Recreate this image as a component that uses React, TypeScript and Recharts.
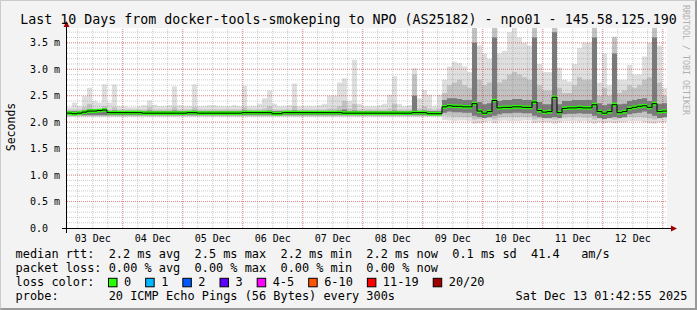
import React from 'react';
import { ComposedChart, Area, Line, XAxis, YAxis, ReferenceLine, CartesianGrid } from 'recharts';

const FONT = '"DejaVu Sans Mono", monospace';
const Y_MAX = 3.78;
const BIN_HOURS = 2;
const START_HOUR = 1.715; // first sample at 01:42:55
const CHAR = 7.17; // legend char advance

const dayLabels = ['03 Dec', '04 Dec', '05 Dec', '06 Dec', '07 Dec', '08 Dec', '09 Dec', '10 Dec', '11 Dec', '12 Dec'];
const yTicks = [0, 0.5, 1, 1.5, 2, 2.5, 3, 3.5];

// values in ms, one per 2 hour bin
const median = [
  2.17, 2.16, 2.17, 2.19, 2.21, 2.21, 2.22, 2.23, 2.18, 2.18, 2.18, 2.18, 2.18, 2.18, 2.18,
  2.17, 2.17, 2.17, 2.17, 2.17, 2.17, 2.17, 2.17, 2.17, 2.18, 2.18, 2.17, 2.17, 2.17, 2.17,
  2.17, 2.17, 2.17, 2.17, 2.17, 2.18, 2.18, 2.18, 2.18, 2.18, 2.18, 2.16, 2.16, 2.18, 2.18,
  2.18, 2.18, 2.18, 2.18, 2.18, 2.18, 2.18, 2.18, 2.18, 2.18, 2.17, 2.17, 2.17, 2.17, 2.17,
  2.17, 2.17, 2.17, 2.17, 2.17, 2.17, 2.17, 2.17, 2.17, 2.18, 2.18, 2.18, 2.16, 2.16, 2.16,
  2.29, 2.31, 2.30, 2.30, 2.29, 2.29, 2.35, 2.21, 2.17, 2.20, 2.41, 2.27, 2.28, 2.28, 2.29,
  2.29, 2.28, 2.28, 2.38, 2.22, 2.19, 2.20, 2.47, 2.18, 2.26, 2.27, 2.27, 2.28, 2.27, 2.27,
  2.33, 2.20, 2.17, 2.20, 2.33, 2.18, 2.20, 2.26, 2.28, 2.30, 2.31, 2.28, 2.35, 2.20, 2.21,
];

const pingMax = [
  2.28, 2.37, 2.30, 2.49, 2.65, 2.40, 2.37, 2.71, 2.37, 2.71, 2.30, 2.30, 2.28, 2.28, 2.30,
  2.32, 2.41, 2.33, 2.30, 2.30, 2.32, 2.68, 2.32, 2.30, 2.30, 2.71, 2.30, 2.30, 2.32, 2.32,
  2.30, 2.30, 2.30, 2.32, 2.30, 2.69, 2.30, 2.30, 2.35, 2.45, 2.60, 2.35, 2.30, 2.30, 2.32,
  2.73, 2.30, 2.30, 2.30, 2.30, 2.32, 2.35, 2.50, 2.50, 2.75, 2.83, 2.40, 3.18, 2.35, 2.30,
  2.30, 2.30, 2.32, 2.35, 2.52, 2.87, 2.35, 2.30, 2.32, 3.02, 2.45, 2.61, 2.52, 2.30, 2.52,
  2.80, 3.05, 3.14, 3.12, 3.05, 2.95, 3.78, 3.45, 3.30, 3.20, 3.78, 3.30, 3.35, 3.70, 3.78,
  3.60, 3.50, 3.45, 3.78, 3.10, 2.95, 2.95, 3.78, 3.03, 2.80, 2.77, 3.10, 3.40, 3.50, 3.50,
  3.78, 2.75, 3.30, 2.70, 3.62, 2.80, 2.80, 3.08, 2.90, 2.90, 3.24, 3.50, 3.78, 3.45, 2.65,
];

const pingMin = [
  2.10, 2.10, 2.10, 2.10, 2.10, 2.10, 2.10, 2.10, 2.10, 2.10, 2.10, 2.10, 2.10, 2.10, 2.10,
  2.10, 2.10, 2.10, 2.10, 2.10, 2.10, 2.10, 2.10, 2.10, 2.10, 2.10, 2.10, 2.10, 2.10, 2.10,
  2.10, 2.10, 2.10, 2.10, 2.10, 2.10, 2.10, 2.10, 2.10, 2.10, 2.10, 2.10, 2.10, 2.10, 2.10,
  2.10, 2.10, 2.10, 2.10, 2.10, 2.10, 2.10, 2.10, 2.10, 2.10, 2.10, 2.10, 2.10, 2.10, 2.10,
  2.10, 2.10, 2.10, 2.10, 2.10, 2.10, 2.10, 2.10, 2.10, 2.10, 2.10, 2.10, 2.10, 2.10, 2.10,
  2.04, 2.03, 2.02, 2.03, 2.03, 2.02, 1.97, 1.98, 2.00, 2.02, 1.98, 2.02, 2.03, 2.02, 2.02,
  2.02, 2.03, 2.03, 1.98, 2.00, 2.00, 2.00, 1.97, 2.00, 2.02, 2.02, 2.02, 2.01, 2.02, 2.00,
  1.97, 2.00, 1.98, 2.00, 1.98, 2.00, 2.00, 2.02, 2.02, 2.02, 2.00, 1.98, 1.97, 2.00, 2.00,
];

const midLow = [
  2.12, 2.12, 2.12, 2.12, 2.12, 2.12, 2.12, 2.12, 2.12, 2.12, 2.12, 2.12, 2.12, 2.12, 2.12,
  2.12, 2.12, 2.12, 2.12, 2.12, 2.12, 2.12, 2.12, 2.12, 2.12, 2.12, 2.12, 2.12, 2.12, 2.12,
  2.12, 2.12, 2.12, 2.12, 2.12, 2.12, 2.12, 2.12, 2.12, 2.12, 2.12, 2.12, 2.12, 2.12, 2.12,
  2.12, 2.12, 2.12, 2.12, 2.12, 2.12, 2.12, 2.12, 2.12, 2.12, 2.12, 2.12, 2.12, 2.12, 2.12,
  2.12, 2.12, 2.12, 2.12, 2.12, 2.12, 2.12, 2.12, 2.12, 2.12, 2.12, 2.12, 2.12, 2.12, 2.12,
  2.12, 2.11, 2.10, 2.10, 2.10, 2.10, 2.05, 2.06, 2.07, 2.08, 2.05, 2.09, 2.10, 2.10, 2.10,
  2.10, 2.10, 2.10, 2.05, 2.07, 2.07, 2.07, 2.05, 2.07, 2.09, 2.10, 2.10, 2.10, 2.09, 2.09,
  2.05, 2.07, 2.06, 2.07, 2.05, 2.07, 2.08, 2.10, 2.10, 2.10, 2.09, 2.07, 2.05, 2.07, 2.08,
];

const midHigh = [
  2.24, 2.24, 2.24, 2.28, 2.35, 2.26, 2.26, 2.30, 2.24, 2.28, 2.24, 2.24, 2.24, 2.24, 2.24,
  2.24, 2.28, 2.24, 2.24, 2.24, 2.24, 2.28, 2.24, 2.24, 2.24, 2.28, 2.24, 2.24, 2.24, 2.24,
  2.24, 2.24, 2.24, 2.24, 2.24, 2.28, 2.24, 2.24, 2.24, 2.26, 2.30, 2.24, 2.24, 2.24, 2.24,
  2.30, 2.24, 2.24, 2.24, 2.24, 2.24, 2.24, 2.26, 2.26, 2.30, 2.40, 2.26, 2.35, 2.24, 2.24,
  2.24, 2.24, 2.24, 2.24, 2.26, 2.35, 2.24, 2.24, 2.24, 2.90, 2.26, 2.30, 2.26, 2.24, 2.26,
  2.55, 2.70, 2.75, 2.80, 2.70, 2.65, 3.78, 2.80, 2.70, 2.75, 3.78, 2.75, 2.80, 2.90, 2.95,
  2.90, 2.85, 2.80, 3.78, 2.70, 2.60, 2.60, 3.78, 2.65, 2.55, 2.55, 2.70, 2.85, 2.80, 2.80,
  3.78, 2.50, 2.65, 2.50, 3.60, 2.55, 2.60, 2.70, 2.65, 2.70, 2.80, 2.85, 3.78, 2.75, 2.50,
];

const coreLow = [
  2.13, 2.13, 2.13, 2.13, 2.13, 2.13, 2.13, 2.13, 2.13, 2.13, 2.13, 2.13, 2.13, 2.13, 2.13,
  2.13, 2.13, 2.13, 2.13, 2.13, 2.13, 2.13, 2.13, 2.13, 2.13, 2.13, 2.13, 2.13, 2.13, 2.13,
  2.13, 2.13, 2.13, 2.13, 2.13, 2.13, 2.13, 2.13, 2.13, 2.13, 2.13, 2.13, 2.13, 2.13, 2.13,
  2.13, 2.13, 2.13, 2.13, 2.13, 2.13, 2.13, 2.13, 2.13, 2.13, 2.13, 2.13, 2.13, 2.13, 2.13,
  2.13, 2.13, 2.13, 2.13, 2.13, 2.13, 2.13, 2.13, 2.13, 2.13, 2.13, 2.13, 2.13, 2.13, 2.13,
  2.18, 2.20, 2.19, 2.19, 2.18, 2.18, 2.12, 2.10, 2.08, 2.10, 2.12, 2.15, 2.17, 2.17, 2.18,
  2.18, 2.17, 2.17, 2.12, 2.10, 2.08, 2.08, 2.10, 2.08, 2.15, 2.16, 2.16, 2.17, 2.16, 2.16,
  2.12, 2.08, 2.06, 2.08, 2.10, 2.08, 2.10, 2.15, 2.17, 2.18, 2.20, 2.16, 2.12, 2.08, 2.10,
];

const coreHigh = [
  2.21, 2.21, 2.21, 2.23, 2.25, 2.25, 2.25, 2.26, 2.21, 2.22, 2.21, 2.21, 2.21, 2.21, 2.21,
  2.21, 2.22, 2.21, 2.21, 2.21, 2.21, 2.22, 2.21, 2.21, 2.21, 2.22, 2.21, 2.21, 2.21, 2.21,
  2.21, 2.21, 2.21, 2.21, 2.21, 2.22, 2.21, 2.21, 2.21, 2.21, 2.22, 2.21, 2.21, 2.21, 2.21,
  2.22, 2.21, 2.21, 2.21, 2.21, 2.21, 2.21, 2.21, 2.21, 2.22, 2.24, 2.21, 2.22, 2.21, 2.21,
  2.21, 2.21, 2.21, 2.21, 2.21, 2.22, 2.21, 2.21, 2.21, 2.50, 2.21, 2.22, 2.21, 2.21, 2.21,
  2.42, 2.45, 2.45, 2.44, 2.42, 2.42, 3.50, 2.38, 2.34, 2.36, 3.60, 2.40, 2.42, 2.42, 2.44,
  2.44, 2.42, 2.42, 3.60, 2.38, 2.34, 2.34, 3.70, 2.34, 2.40, 2.40, 2.42, 2.42, 2.42, 2.42,
  3.60, 2.36, 2.32, 2.35, 3.30, 2.34, 2.35, 2.40, 2.42, 2.44, 2.45, 2.40, 3.60, 2.35, 2.36,
];

const lossLabels = ['0', '1', '2', '3', '4-5', '6-10', '11-19', '20/20'];
const lossColors = ['#26ff00', '#00b8ff', '#0059ff', '#5e00ff', '#ff00ff', '#ff5500', '#ff0000', '#a10000'];

const statsLine = 'median rtt:  2.2 ms avg  2.5 ms max  2.2 ms min  2.2 ms now  0.1 ms sd  41.4   am/s';
const lossLine = 'packet loss: 0.00 % avg  0.00 % max  0.00 % min  0.00 % now';
const probeLine = 'probe:       20 ICMP Echo Pings (56 Bytes) every 300s';
const stamp = 'Sat Dec 13 01:42:55 2025';
const title = 'Last 10 Days from docker-tools-smokeping to NPO (AS25182) - npo01 - 145.58.125.190';

const rows = median.map((m, i) => ({
  t: i * BIN_HOURS,
  outer: [pingMin[i], pingMax[i]],
  mid: [midLow[i], midHigh[i]],
  core: [coreLow[i], coreHigh[i]],
  med: m,
  band: [m - 0.035, m + 0.035],
}));
rows.push({ ...rows[rows.length - 1], t: rows.length * BIN_HOURS });

const labelTicks = dayLabels.map((_, k) => 12 - START_HOUR + 24 * k);
const minorX = Array.from({ length: 40 }, (_, k) => 6 - START_HOUR + 6 * k);
const majorX = Array.from({ length: 10 }, (_, k) => 24 - START_HOUR + 24 * k);
const minorY = Array.from({ length: 37 }, (_, k) => (k + 1) / 10);
const majorY = [0.5, 1, 1.5, 2, 2.5, 3, 3.5];

const XTick = (props: any) => (
  <text x={props.x} y={props.y + 14} textAnchor="middle" fontFamily={FONT} fontSize={10} fill="#000">
    {dayLabels[props.index]}
  </text>
);

const YTick = (props: any) => {
  const v = props.payload.value;
  return (
    <text x={30} y={props.y + 3.5} textAnchor="start" fontFamily={FONT} fontSize={10} fill="#000">
      {v === 0 ? '0.0' : v.toFixed(1) + ' m'}
    </text>
  );
};

let boxX = 108.5;
const lossItems = lossLabels.map((label, i) => {
  const item = { label, color: lossColors[i], x: boxX };
  boxX += 16 + label.length * CHAR + 14;
  return item;
});

const layer: React.CSSProperties = { position: 'absolute', left: 0, top: 0 };

export default function App() {
  return (
    <div style={{ position: 'relative', width: 697, height: 310, background: '#f3f3f3', overflow: 'hidden' }}>
      <style>{'body{margin:0;}'}</style>
      {/* smoke and grid */}
      <div style={layer}>
        <ComposedChart width={697} height={310} data={rows} margin={{ top: 28, right: 30, left: 0, bottom: 0 }}>
          <CartesianGrid fill="#ffffff" horizontal={false} vertical={false} />
          <XAxis dataKey="t" type="number" domain={[0, 240]} ticks={labelTicks} height={82}
            tick={<XTick />} tickLine={false} tickSize={0} tickMargin={0} axisLine={false} allowDataOverflow />
          <YAxis type="number" domain={[0, Y_MAX]} ticks={yTicks} width={67}
            tick={<YTick />} tickLine={false} tickSize={0} tickMargin={0} axisLine={false} allowDataOverflow />
          <Area dataKey="outer" type="stepAfter" fill="#dfdfdf" fillOpacity={1} stroke="none" isAnimationActive={false} />
          <Area dataKey="mid" type="stepAfter" fill="#c2c2c2" fillOpacity={1} stroke="none" isAnimationActive={false} />
          <Area dataKey="core" type="stepAfter" fill="#7a7a7a" fillOpacity={1} stroke="none" isAnimationActive={false} />
          {minorX.map(v => <ReferenceLine key={'mx' + v} x={v} stroke="#808080" strokeOpacity={0.4} strokeDasharray="1 1" />)}
          {minorY.map(v => <ReferenceLine key={'my' + v} y={v} stroke="#808080" strokeOpacity={0.4} strokeDasharray="1 1" />)}
          {majorX.map(v => <ReferenceLine key={'Mx' + v} x={v} stroke="#ff0000" strokeOpacity={0.35} strokeDasharray="1 1" />)}
          {majorY.map(v => <ReferenceLine key={'My' + v} y={v} stroke="#ff0000" strokeOpacity={0.35} strokeDasharray="1 1" />)}
        </ComposedChart>
      </div>
      {/* median on top of the grid */}
      <div style={layer}>
        <ComposedChart width={697} height={310} data={rows} margin={{ top: 28, right: 30, left: 67, bottom: 82 }}>
          <XAxis dataKey="t" type="number" domain={[0, 240]} hide allowDataOverflow />
          <YAxis type="number" domain={[0, Y_MAX]} hide allowDataOverflow />
          <Line dataKey="med" type="stepAfter" stroke="#000000" strokeWidth={1} dot={false} activeDot={false} isAnimationActive={false} />
          <Area dataKey="band" type="stepAfter" fill="#26ff00" fillOpacity={1} stroke="none" isAnimationActive={false} />
        </ComposedChart>
      </div>
      <svg width={697} height={310} style={{ ...layer, pointerEvents: 'none' }}>
        <line x1={62} y1={228.5} x2={671} y2={228.5} stroke="#000" strokeWidth={1} />
        <line x1={66.5} y1={233} x2={66.5} y2={26} stroke="#000" strokeWidth={1} />
        <polygon points="63.5,27 69.5,27 66.5,21" fill="#a00000" />
        <polygon points="671,225.5 671,231.5 677,228.5" fill="#a00000" />
        <text x={348.5} y={24} textAnchor="middle" fontFamily={FONT} fontSize={13.3} fill="#000">{title}</text>
        <text transform="translate(14.5,127) rotate(-90)" textAnchor="middle" fontFamily={FONT} fontSize={11.5} fill="#000">Seconds</text>
        <text transform="translate(683,5) rotate(90)" textAnchor="start" fontFamily={FONT} fontSize={8.3} fill="#b0b0b0">RRDTOOL / TOBI OETIKER</text>
        <text x={15.6} y={258.3} fontFamily={FONT} fontSize={11.9} fill="#000" style={{ whiteSpace: 'pre' }}>{statsLine}</text>
        <text x={15.6} y={272.3} fontFamily={FONT} fontSize={11.9} fill="#000" style={{ whiteSpace: 'pre' }}>{lossLine}</text>
        <text x={15.6} y={286.3} fontFamily={FONT} fontSize={11.9} fill="#000" style={{ whiteSpace: 'pre' }}>loss color:</text>
        {lossItems.map(it => (
          <g key={it.label}>
            <rect x={it.x} y={278.3} width={8.5} height={8.5} fill={it.color} stroke="#000" strokeWidth={1} />
            <text x={it.x + 15.5} y={286.3} fontFamily={FONT} fontSize={11.9} fill="#000">{it.label}</text>
          </g>
        ))}
        <text x={15.6} y={300} fontFamily={FONT} fontSize={11.9} fill="#000" style={{ whiteSpace: 'pre' }}>{probeLine}</text>
        <text x={515.6} y={300} fontFamily={FONT} fontSize={11.9} fill="#000">{stamp}</text>
      </svg>
      <div style={{
        position: 'absolute', inset: 0, boxSizing: 'border-box', pointerEvents: 'none',
        borderTop: '1px solid #cbcbcb', borderLeft: '1px solid #cbcbcb',
        borderRight: '2px solid #999999', borderBottom: '2px solid #999999',
      }} />
    </div>
  );
}
